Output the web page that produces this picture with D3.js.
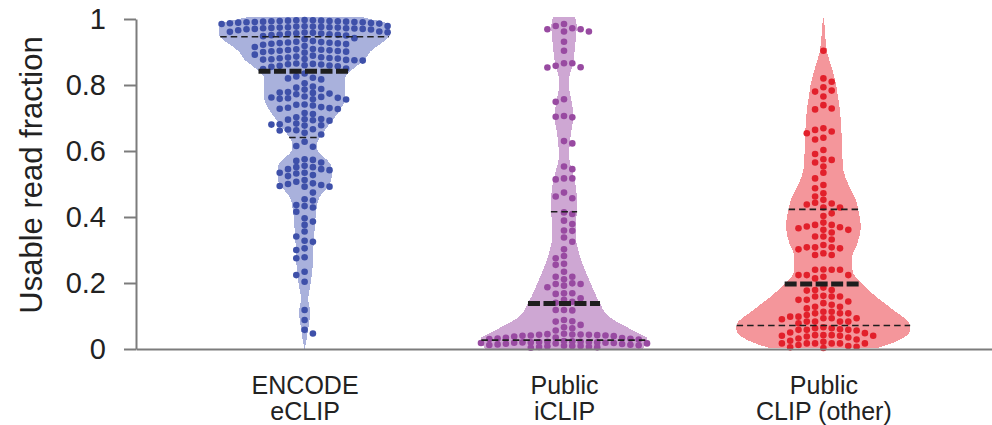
<!DOCTYPE html>
<html>
<head>
<meta charset="utf-8">
<script src="https://cdnjs.cloudflare.com/ajax/libs/d3/7.8.5/d3.min.js"></script>
<style>
body { margin:0; background:#fff }
text { font-family:"Liberation Sans", Arial, sans-serif; fill:#222 }
</style>
</head>
<body>
<script>

// groups along x
var categories = ['encode', 'iclip', 'other']
var catLines   = [['ENCODE', 'eCLIP'], ['Public', 'iCLIP'], ['Public', 'CLIP (other)']]

var yTicks = [0, 0.2, 0.4, 0.6, 0.8, 1]

// usable read fraction per dataset
var encodeValues = [
 0.997,0.995,0.996,0.993,0.994,0.992,0.991,0.996,0.989,0.993,0.990,0.995,0.988,0.992,0.994,0.987,0.990,0.986,0.991,0.985,
 0.979,0.977,0.975,0.978,0.974,0.976,0.972,0.977,0.973,0.970,0.975,0.971,0.968,0.974,0.969,0.972,0.966,0.970,
 0.962,0.960,0.958,0.961,0.957,0.955,0.959,0.953,0.956,0.951,0.954,0.950,0.952,0.948,
 0.931,0.929,0.926,0.928,0.924,0.930,0.925,0.927,0.922,0.933,
 0.908,0.905,0.902,0.906,0.900,0.904,0.909,0.901,0.903,0.907,0.898,
 0.883,0.880,0.877,0.881,0.875,0.879,0.884,0.876,0.882,0.878,0.874,0.886,
 0.864,0.860,0.862,0.858,0.865,0.857,0.863,0.859,0.855,
 0.942,0.939,0.915,0.918,0.892,0.889,0.850,0.848,
 0.822,0.826,0.820,0.817, 0.792,0.788,0.795,0.786, 0.777,0.774,0.779,0.772,0.776,
 0.762,0.758,0.764,0.760,0.756,0.765,0.761,0.757, 0.741,0.738,0.740, 0.731,0.728,0.730,0.727,0.733,
 0.715,0.712, 0.696,0.693,0.695,0.692,0.697, 0.681,0.678,0.680,0.677,0.683, 0.666,0.663,0.665,0.662,
 0.650, 0.805,0.835,0.702,0.655,
 0.615,0.628,0.613, 0.565,0.575,0.573,0.570, 0.555,0.545,0.551,0.545,0.551,
 0.534,0.532,0.527,0.524,0.534,0.542, 0.502,0.497,0.512,0.507,0.500, 0.492,0.494,0.492,
 0.474, 0.450,0.454, 0.433,0.429,0.436, 0.416, 0.386,0.396, 0.376, 0.356, 0.341,
 0.325,0.328, 0.305,0.300, 0.278,0.275, 0.234,0.224,0.204, 0.118,0.088, 0.047,0.058
]
var iclipValues = [
 0.962,0.962,0.985,0.969,0.979,0.969,0.972, 0.931,0.904, 0.866,0.854,0.866,0.853,0.858,
 0.757,0.749, 0.704,0.702,0.706, 0.623,0.630, 0.553,0.545, 0.517,0.517,0.514, 0.474,0.457,0.462,
 0.409,0.414,0.389,0.379,0.358,0.359,0.338,0.325,0.302,0.275,0.282,0.255,0.258,0.234,0.219,
 0.219,0.211,0.199,0.192,0.197,0.187,0.197,0.169,0.169,0.167,0.154,0.149,0.140,0.143,
 0.118,0.118,0.117,0.088,0.083,0.084,0.066,0.063,0.056,0.073,
 0.045,0.043,0.041,0.044,0.040,0.042,0.046,0.039,0.043,0.041,0.044,0.038,
 0.034,0.031,0.033,0.030,0.032,0.029,0.035,
 0.024,0.022,0.020,0.023,0.019,0.021,0.018,0.022,0.017,0.020,0.016,0.021,0.015,0.019,0.014,
 0.018,0.013,0.020,0.012,0.017,0.010,0.008,0.009,0.006,0.011,0.007,0.005,0.004,0.009
]
var otherValues = [
 0.904,0.820,0.810,0.780,0.793,0.783,0.765,0.739,0.729,0.726,0.669,0.659,0.664,0.654,0.640,0.635,
 0.603,0.591,0.573,0.575,0.565,0.553,0.534,0.517,0.497,0.487,0.472,0.462,0.452,0.443,0.441,0.438,0.429,0.429,
 0.403,0.411,0.383,0.376,0.376,0.366,0.361,0.369,0.371,0.353,0.361,0.341,0.332,0.308,0.305,0.308,
 0.308,0.285,0.302,0.285,0.341,0.315,0.290,0.240,0.240,0.241,0.240,0.224,0.224,0.224,0.214,0.219,
 0.179,0.179,0.177,0.159,0.159,0.161,0.159,0.149,0.149,0.144,0.123,0.139,0.134,0.128,0.128,0.108,
 0.113,0.113,0.108,0.108,0.103,0.093,0.098,0.098,0.093,0.093,0.090,0.083,0.083,0.083,0.083,0.078,0.186,
 0.058,0.058,0.058,0.063,0.056,0.060,0.063,0.040,0.040,0.042,0.042,0.040,0.042,0.038,0.032,0.029,
 0.017,0.012,0.017,0.017,0.017,0.017,0.017,0.007,0.009,0.005,0.066,0.050,0.048,0.025,0.022,0.035,0.003
]

// violin outlines: [value, relative density] top to bottom
var encodeDensity = [
 [1.007,0.64],[0.997,0.80],[0.99,0.92],[0.975,0.98],[0.95,0.98],[0.946,0.97],[0.9,0.75],[0.876,0.69],
 [0.856,0.59],[0.842,0.53],[0.825,0.47],[0.77,0.47],[0.745,0.45],[0.71,0.37],[0.68,0.28],[0.65,0.20],
 [0.63,0.15],[0.61,0.14],[0.59,0.18],[0.575,0.25],[0.55,0.31],[0.52,0.31],[0.50,0.29],[0.48,0.23],
 [0.46,0.17],[0.43,0.14],[0.38,0.12],[0.30,0.10],[0.24,0.09],[0.20,0.07],[0.17,0.05],[0.15,0.04],
 [0.12,0.063],[0.09,0.057],[0.06,0.04],[0.03,0.023],[0.0,0.0]
]
var iclipDensity = [
 [1.005,0.126],[0.977,0.147],[0.926,0.13],[0.876,0.109],[0.846,0.083],[0.815,0.054],[0.785,0.061],
 [0.755,0.083],[0.704,0.109],[0.664,0.086],[0.623,0.067],[0.583,0.057],[0.542,0.092],[0.502,0.13],
 [0.462,0.147],[0.421,0.153],[0.381,0.134],[0.34,0.134],[0.30,0.163],[0.26,0.21],[0.219,0.274],
 [0.179,0.339],[0.138,0.414],[0.098,0.514],[0.068,0.709],[0.047,0.862],[0.032,0.957],[0.012,0.929],[0.0,0.908]
]
var otherDensity = [
 [1.002,0.006],[0.967,0.017],[0.926,0.029],[0.896,0.046],[0.866,0.08],[0.835,0.115],[0.805,0.144],
 [0.765,0.167],[0.724,0.19],[0.664,0.207],[0.603,0.215],[0.542,0.23],[0.492,0.299],[0.452,0.374],
 [0.421,0.402],[0.371,0.431],[0.32,0.391],[0.28,0.333],[0.24,0.333],[0.219,0.368],[0.199,0.437],
 [0.158,0.609],[0.118,0.805],[0.073,0.997],[0.058,1.0],[0.032,0.908],[0.017,0.782],[0.002,0.609]
]

// lower quartile, median, upper quartile
var encodeQuartiles = [0.641, 0.842, 0.946]
var iclipQuartiles  = [0.027, 0.138, 0.416]
var otherQuartiles  = [0.071, 0.197, 0.423]

var fills = ['#a9b1dc', '#cea7d3', '#f4969b']
var dots  = ['#3e50a9', '#984aa1', '#e2202b']

var groups = [
 {values: encodeValues, density: encodeDensity, quart: encodeQuartiles},
 {values: iclipValues,  density: iclipDensity,  quart: iclipQuartiles},
 {values: otherValues,  density: otherDensity,  quart: otherQuartiles}
]

var width = 992, height = 425
var svg = d3.select('body').append('svg').attr('width', width).attr('height', height)

var x = d3.scalePoint().domain(categories).range([136, 992]).padding(0.65)
var y = d3.scaleLinear().domain([0, 1]).range([349, 19])
var w = d3.scaleLinear().domain([0, 1]).range([0, 87])

var COL = 8.3, GAP = 6.2

// column beeswarm kept inside the violin where it can be, values stay on y
// narrow parts may spill a couple of columns out, like the original
function swarm(vals, halfAt) {
  var pts = vals.slice().sort(function(a, b) { return b - a })
  var cols = {}, out = []
  pts.forEach(function(v, i) {
    var py = y(v), sgn = i % 2 ? -1 : 1
    var maxK = Math.max(1, Math.floor(halfAt(v) / COL + 0.2))
    if (maxK < 4) maxK += 2
    var best = null, bestGap = -1
    for (var n = 0; n <= 2 * maxK; n++) {
      var k = n == 0 ? 0 : (n % 2 ? 1 : -1) * Math.ceil(n / 2) * sgn
      var c = cols[k] || (cols[k] = [])
      var g = d3.min(c, function(q) { return Math.abs(q - py) })
      if (g === undefined) g = 99
      if (g >= GAP) { best = k; break }
      if (g > bestGap) { bestGap = g; best = k }
    }
    cols[best].push(py)
    out.push({v: v, k: best})
  })
  return out
}

groups.forEach(function(g, gi) {
  var cx = x(categories[gi])
  var gg = svg.append('g')

  var area = d3.area()
    .y(function(d) { return y(d[0]) })
    .x0(function(d) { return cx - w(d[1]) })
    .x1(function(d) { return cx + w(d[1]) })
    .curve(d3.curveMonotoneY)

  gg.append('path').datum(g.density)
    .attr('d', area)
    .attr('fill', fills[gi])
    .attr('shape-rendering', 'crispEdges')

  // width of violin at a value
  var halfAt = d3.scaleLinear()
    .domain(g.density.map(function(d) { return d[0] }))
    .range(g.density.map(function(d) { return w(d[1]) }))
    .clamp(true)

  gg.selectAll('circle').data(swarm(g.values, halfAt)).enter().append('circle')
    .attr('cx', function(d) { return cx + d.k * COL })
    .attr('cy', function(d) { return y(d.v) })
    .attr('r', 3.3)
    .attr('fill', dots[gi])

  gg.selectAll('line.q').data(g.quart).enter().append('line')
    .attr('class', 'q')
    .attr('x1', function(d) { return cx - halfAt(d) })
    .attr('x2', function(d) { return cx + halfAt(d) })
    .attr('y1', function(d) { return y(d) })
    .attr('y2', function(d) { return y(d) })
    .attr('stroke', '#1e1e1e')
    .attr('stroke-width', function(d, i) { return i == 1 ? 5 : 1.6 })
    .attr('stroke-dasharray', function(d, i) { return i == 1 ? '12,3.5' : '6.5,4' })
})

// axes
var yAxis = svg.append('g').attr('transform', 'translate(136,0)')
  .call(d3.axisLeft(y).tickValues(yTicks).tickFormat(d3.format('')).tickSize(12).tickSizeOuter(0).tickPadding(18))
var xAxis = svg.append('g').attr('transform', 'translate(0,349)')
  .call(d3.axisBottom(x).tickSize(0).tickSizeOuter(0).tickFormat(''))

svg.selectAll('.domain, .tick line').attr('stroke', '#7c7c7c').attr('stroke-width', 2)
yAxis.selectAll('text').style('font-size', '29px').attr('fill', '#222').attr('dy', '0.34em')

xAxis.selectAll('.tick').each(function(d, i) {
  var t = d3.select(this).append('text').attr('text-anchor', 'middle').style('font-size', '25px').attr('fill', '#222')
  catLines[i].forEach(function(s, j) {
    t.append('tspan').attr('x', 0).attr('y', 45 + j * 26).text(s)
  })
})

svg.append('text')
  .attr('transform', 'translate(42,175) rotate(-90)')
  .attr('text-anchor', 'middle')
  .style('font-size', '31px')
  .text('Usable read fraction')

</script>
</body>
</html>
